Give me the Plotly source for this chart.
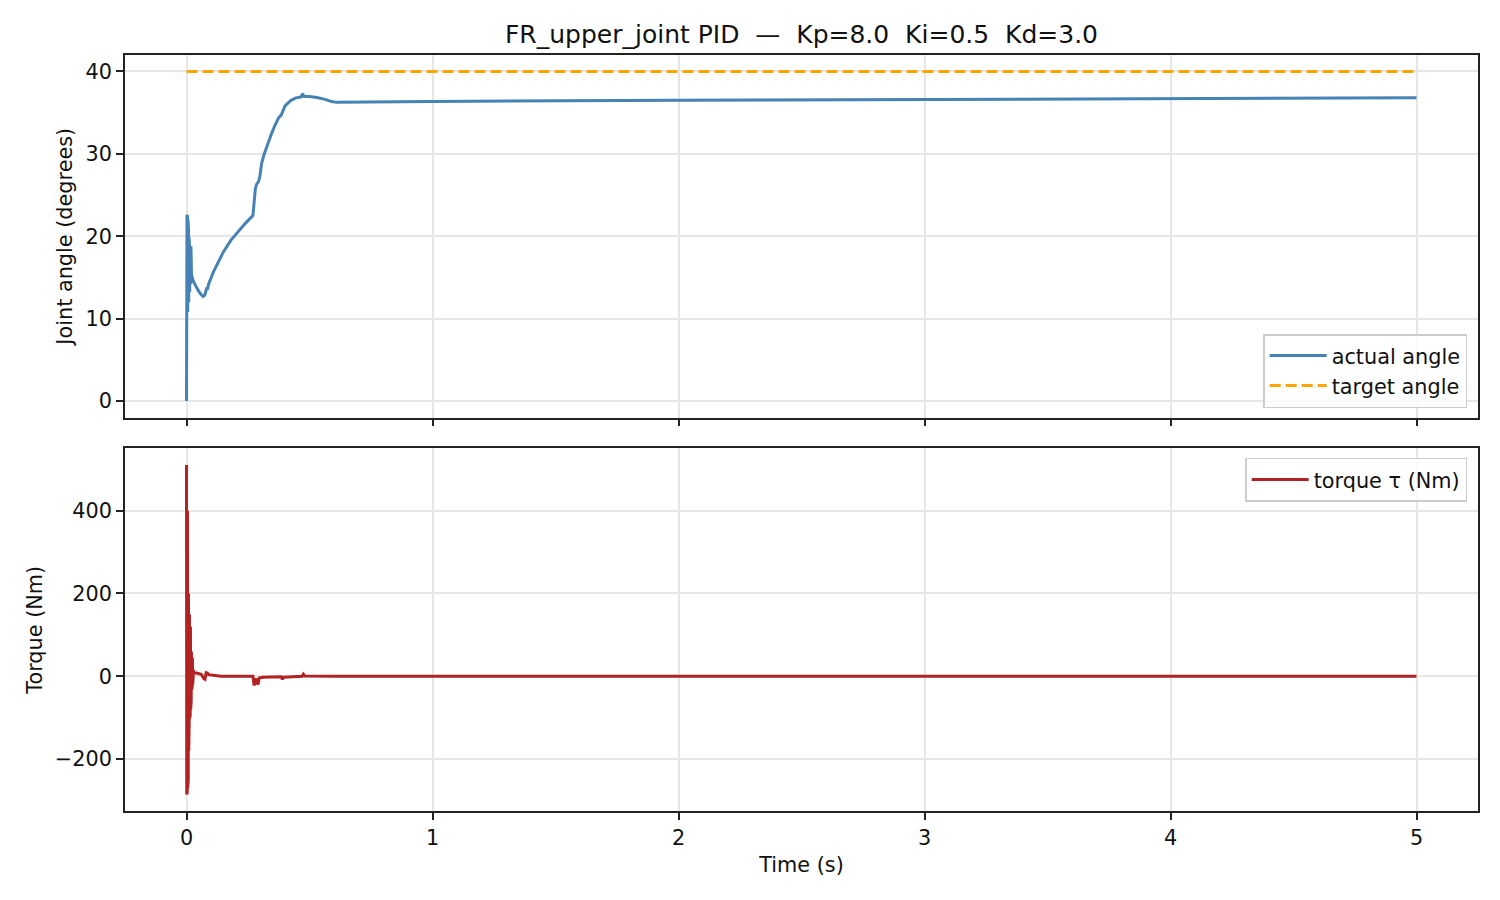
import plotly.graph_objects as go
from plotly.subplots import make_subplots

# joint angle (s, degrees)
t_angle = [0.000, 0.002, 0.003, 0.004, 0.005, 0.006, 0.007, 0.008, 0.009, 0.010,
           0.011, 0.012, 0.013, 0.014, 0.015, 0.016, 0.017, 0.018, 0.019, 0.020,
           0.021, 0.022, 0.024, 0.030, 0.040, 0.050, 0.060, 0.068, 0.075, 0.080,
           0.083, 0.085, 0.090, 0.110, 0.130, 0.150, 0.180, 0.210, 0.240, 0.270,
           0.275, 0.280, 0.285, 0.292, 0.298, 0.305, 0.315, 0.330, 0.345, 0.360,
           0.375, 0.385, 0.390, 0.400, 0.410, 0.425, 0.445, 0.465, 0.472, 0.478,
           0.500, 0.530, 0.560, 0.590, 0.610, 0.800, 1.0, 2.0, 3.0, 4.0, 5.0]
angle = [0.0, 22.6, 11.0, 22.4, 10.8, 22.0, 11.5, 21.0, 12.0, 20.0,
         12.5, 19.0, 13.2, 17.5, 14.0, 16.5, 14.2, 18.8, 14.5, 15.8,
         14.6, 15.2, 14.9, 14.4, 13.8, 13.3, 12.9, 12.7, 12.9, 13.4,
         13.8, 13.5, 14.2, 15.7, 17.0, 18.1, 19.5, 20.6, 21.6, 22.5,
         24.5, 25.8, 26.3, 26.6, 27.2, 28.8, 29.9, 31.2, 32.4, 33.5,
         34.4, 34.7, 35.1, 35.8, 36.1, 36.5, 36.8, 36.9, 37.3, 36.95,
         36.95, 36.85, 36.65, 36.35, 36.25, 36.32, 36.36, 36.5, 36.6, 36.7, 36.8]

t_target = [0.0, 5.0]
target = [40.0, 40.0]

# torque (Nm)
t_torque = [0.000, 0.001, 0.002, 0.003, 0.004, 0.005, 0.006, 0.007, 0.008, 0.009,
            0.010, 0.011, 0.012, 0.013, 0.014, 0.015, 0.016, 0.017, 0.018, 0.019,
            0.020, 0.021, 0.022, 0.023, 0.024, 0.025, 0.026, 0.027, 0.028, 0.030,
            0.040, 0.050, 0.060, 0.070, 0.075, 0.080, 0.085, 0.090, 0.110, 0.140,
            0.200, 0.270, 0.275, 0.282, 0.290, 0.296, 0.310, 0.385, 0.390, 0.395,
            0.470, 0.475, 0.480, 0.600, 5.0]
torque = [510, -285, 480, -280, 400, -270, 300, -250, 200, -180,
          156, -103, 150, -100, 140, -95, 120, -80, 100, -60,
          60, -31, 55, -28, 45, -20, 30, -5, 15, 9,
          8, 7, 5, -5, -7, 9, 8, 4, 2, 0,
          0, 0, -22, -5, -20, -4, -2, -1, -7, -2,
          0, 5, 1, 0, 0]

fnt = "DejaVu Sans"
txt = "#111"

fig = make_subplots(rows=2, cols=1, shared_xaxes=True, vertical_spacing=0.041)

fig.add_trace(go.Scatter(x=t_angle, y=angle, mode="lines", name="actual angle",
                         line=dict(color="#4682B4", width=3), legend="legend"),
              row=1, col=1)
fig.add_trace(go.Scatter(x=t_target, y=target, mode="lines", name="target angle",
                         line=dict(color="#FFA500", width=3, dash="11px,5px"), legend="legend"),
              row=1, col=1)
fig.add_trace(go.Scatter(x=t_torque, y=torque, mode="lines", name="torque τ (Nm)",
                         line=dict(color="#B22222", width=3), legend="legend2"),
              row=2, col=1)

axis_style = dict(showline=True, linecolor="#222", linewidth=1.7, mirror=True,
                  ticks="outside", ticklen=7, tickwidth=1.6, tickcolor="#222",
                  showgrid=True, gridcolor="#e6e6e6", gridwidth=1.5, zeroline=False,
                  tickfont=dict(family=fnt, size=20.8, color=txt))

fig.update_xaxes(**axis_style, range=[-0.25, 5.25], dtick=1)
fig.update_xaxes(showticklabels=False, row=1, col=1)
fig.update_xaxes(title=dict(text="Time (s)", font=dict(family=fnt, size=20.8, color=txt), standoff=9),
                 row=2, col=1)
fig.update_yaxes(**axis_style)
fig.update_yaxes(range=[-2.0, 42.0], tickvals=[0, 10, 20, 30, 40],
                 title=dict(text="Joint angle (degrees)", font=dict(family=fnt, size=20.8, color=txt),
                            standoff=7),
                 row=1, col=1)
fig.update_yaxes(range=[-325, 550], tickvals=[-200, 0, 200, 400],
                 title=dict(text="Torque (Nm)", font=dict(family=fnt, size=20.8, color=txt),
                            standoff=7),
                 row=2, col=1)

legend_style = dict(x=0.992, xanchor="right", itemwidth=57,
                    bgcolor="rgba(255,255,255,0.8)", bordercolor="#cccccc", borderwidth=1.5,
                    font=dict(family=fnt, size=20.8))

# page body adds an 8px offset, margins compensate for it
fig.update_layout(
    width=1500, height=900,
    margin=dict(l=117, r=30, t=47, b=97),
    plot_bgcolor="white", paper_bgcolor="white",
    font=dict(family=fnt, size=20.8, color=txt),
    title=dict(text="FR_upper_joint PID  —  Kp=8.0  Ki=0.5  Kd=3.0",
               x=0.529, xanchor="center", y=0.971, yanchor="middle",
               font=dict(family=fnt, size=25, color=txt)),
    legend=dict(**legend_style, y=0.533, yanchor="bottom"),
    legend2=dict(**legend_style, y=0.467, yanchor="top"),
)

fig.write_html("out.html")
